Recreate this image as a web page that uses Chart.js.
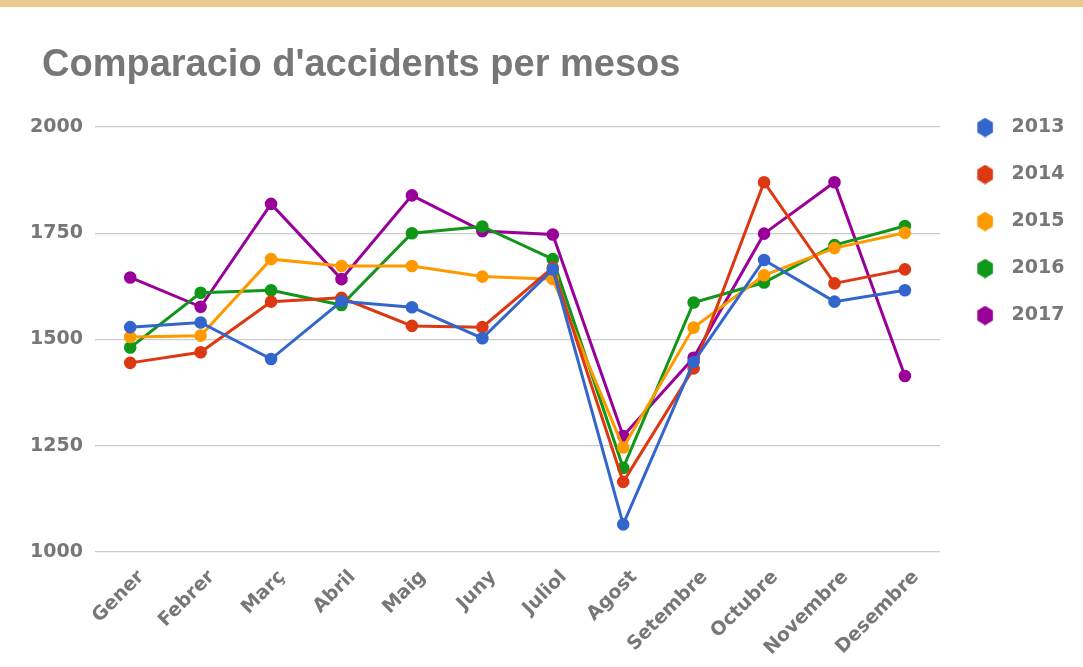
<!DOCTYPE html>
<html>
<head>
<meta charset="utf-8">
<script src="https://cdn.jsdelivr.net/npm/chart.js@4"></script>
<style>
  body { margin: 0; background: #fff; }
  #wrap { position: relative; width: 1083px; height: 667px; }
  #band { position: absolute; left: 0; top: 0; width: 1083px; height: 7px; background: #ebc98d; }
</style>
</head>
<body>
<div id="wrap">
  <canvas id="myChart" width="1083" height="667"></canvas>
  <div id="band"></div>
</div>
<script>
var months = ['Gener', 'Febrer', 'Març', 'Abril', 'Maig', 'Juny', 'Juliol', 'Agost', 'Setembre', 'Octubre', 'Novembre', 'Desembre'];
var years = ['2013', '2014', '2015', '2016', '2017'];
var v2013 = [1529, 1540, 1454, 1590, 1576, 1503, 1665, 1065, 1447, 1687, 1589, 1616];
var v2014 = [1445, 1470, 1589, 1598, 1532, 1529, 1669, 1165, 1432, 1870, 1632, 1665];
var v2015 = [1506, 1509, 1689, 1673, 1673, 1648, 1642, 1246, 1528, 1651, 1715, 1751];
var v2016 = [1481, 1610, 1616, 1581, 1750, 1766, 1689, 1198, 1587, 1634, 1722, 1767];
var v2017 = [1646, 1577, 1819, 1642, 1839, 1755, 1747, 1273, 1457, 1749, 1870, 1414];
var colors = ['#3366cc', '#dc3912', '#ff9900', '#109618', '#990099'];
var yTicks = [1000, 1250, 1500, 1750, 2000];

var grey = '#777777';

// hexagon markers for the legend
function hexagon(color) {
    var c = document.createElement('canvas');
    c.width = 18;
    c.height = 20;
    var g = c.getContext('2d');
    g.fillStyle = color;
    g.beginPath();
    for (var i = 0; i < 6; i++) {
        var a = Math.PI / 2 + i * Math.PI / 3;
        var px = 9 + 9 * Math.cos(a);
        var py = 10 + 9.8 * Math.sin(a);
        if (i === 0) g.moveTo(px, py); else g.lineTo(px, py);
    }
    g.closePath();
    g.fill();
    return c;
}

var series = [v2013, v2014, v2015, v2016, v2017];
var datasets = series.map(function (vals, i) {
    return {
        label: years[i],
        data: vals,
        borderColor: colors[i],
        backgroundColor: colors[i],
        borderWidth: 3,
        pointRadius: 4.8,
        pointHoverRadius: 5,
        pointStyle: 'circle',
        tension: 0
    };
});

// title sits a little right of the y labels
var titleShift = {
    id: 'titleShift',
    afterLayout: function (chart) {
        chart.titleBlock.left += 13;
        chart.titleBlock.right += 13;
    }
};

var ctx = document.getElementById('myChart').getContext('2d');
var myChart = new Chart(ctx, {
    type: 'line',
    data: {
        labels: months,
        datasets: datasets
    },
    plugins: [titleShift],
    options: {
        responsive: false,
        animation: false,
        layout: {
            padding: { left: 29, right: 8.5, top: 0, bottom: 0 }
        },
        plugins: {
            title: {
                display: true,
                text: "Comparacio d'accidents per mesos",
                align: 'start',
                color: grey,
                font: { family: '"Liberation Sans", Arial, sans-serif', size: 38, weight: 'bold' },
                padding: { top: 43, bottom: 1.4 }
            },
            legend: {
                position: 'right',
                align: 'start',
                fullSize: false,
                labels: {
                    usePointStyle: true,
                    pointStyleWidth: 34,
                    padding: 28,
                    color: grey,
                    font: { family: '"DejaVu Sans", sans-serif', size: 19, weight: 'bold' },
                    generateLabels: function (chart) {
                        return chart.data.datasets.map(function (ds, i) {
                            return {
                                text: ds.label,
                                fillStyle: ds.backgroundColor,
                                strokeStyle: ds.borderColor,
                                fontColor: grey,
                                pointStyle: hexagon(ds.borderColor),
                                lineWidth: 0,
                                datasetIndex: i
                            };
                        });
                    }
                }
            },
            tooltip: { enabled: false }
        },
        scales: {
            x: {
                offset: true,
                grid: { display: false },
                border: { display: false },
                afterFit: function (s) { s.height = 115; },
                ticks: {
                    autoSkip: false,
                    maxRotation: 45,
                    minRotation: 45,
                    padding: 6,
                    labelOffset: 11,
                    color: grey,
                    font: { family: '"DejaVu Sans", sans-serif', size: 19, weight: 'bold' }
                }
            },
            y: {
                min: 1000,
                max: 2087,
                afterFit: function (s) { s.width = 66; },
                afterBuildTicks: function (s) {
                    s.ticks = yTicks.map(function (v) { return { value: v }; });
                },
                grid: { color: '#cccccc', lineWidth: 1.3, drawTicks: false },
                border: { display: false },
                ticks: {
                    padding: 12,
                    color: grey,
                    font: { family: '"DejaVu Sans", sans-serif', size: 19, weight: 'bold' },
                    callback: function (v) { return String(v); }
                }
            }
        }
    }
});
</script>
</body>
</html>
